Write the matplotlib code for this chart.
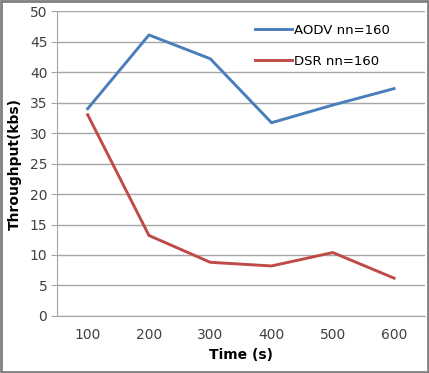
import matplotlib.pyplot as plt
from matplotlib.patches import Rectangle

times = [100, 200, 300, 400, 500, 600]
aodv = [34.0, 46.1, 42.2, 31.7, 34.6, 37.3]
dsr = [33.0, 13.2, 8.8, 8.2, 10.4, 6.2]

fig = plt.figure(figsize=(4.29, 3.73), dpi=100)
ax = fig.add_axes([0.133, 0.153, 0.857, 0.817])  # l, b, w, h

pos = list(range(len(times)))
ax.plot(pos, aodv, color='#4a7ebb', lw=2.1, label='AODV nn=160')
ax.plot(pos, dsr, color='#be4b48', lw=2.1, label='DSR nn=160')

ax.set_xlim(-0.5, len(times) - 0.5)
ax.set_ylim(0, 50)
ax.set_yticks(range(0, 51, 5))
ax.set_xticks(pos)
ax.set_xticklabels([str(t) for t in times])
ax.yaxis.grid(True, color='#a6a6a6', lw=1)
ax.set_axisbelow(True)

for s in ['top', 'right']:
    ax.spines[s].set_visible(False)
ax.spines['left'].set_color('#a6a6a6')
ax.spines['bottom'].set_color('#a6a6a6')
ax.tick_params(axis='y', length=4, color='#a6a6a6', labelsize=10, labelcolor='#404040', pad=3)
ax.tick_params(axis='x', length=0, labelsize=10, labelcolor='#404040', pad=9)

ax.set_xlabel('Time (s)', fontweight='bold', fontsize=10, labelpad=4)
ax.set_ylabel('Throughput(kbs)', fontweight='bold', fontsize=10, labelpad=6)

ax.legend(loc='upper right', bbox_to_anchor=(0.937, 0.997), frameon=False, fontsize=9.5,
          handlelength=2.8, handletextpad=0.15, labelspacing=1.35)

fig.patches.append(Rectangle((0.002, 0.002), 0.996, 0.996, transform=fig.transFigure,
                             fill=False, edgecolor='#808080', lw=2))

fig.savefig('out.png', dpi=100)
